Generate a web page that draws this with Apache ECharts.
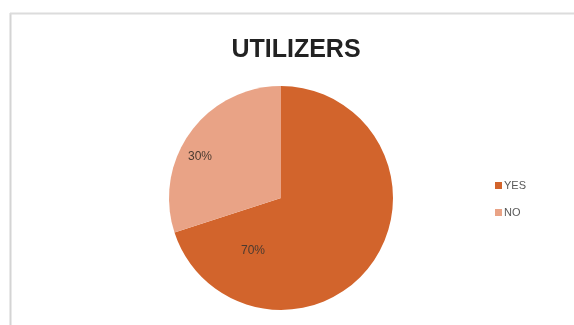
<!DOCTYPE html>
<html>
<head>
<meta charset="utf-8">
<script src="https://cdn.jsdelivr.net/npm/echarts@6/dist/echarts.min.js"></script>
<style>
  html, body { margin: 0; padding: 0; background: #fff; }
  #chart { width: 574px; height: 325px; }
</style>
</head>
<body>
<div id="chart"></div>
<script>
const categories = ['YES', 'NO']
const shares = [70, 30]
const sliceColors = ['#D2642C', '#E9A386']

// label spots roughly where Excel put them
const labelSpots = [[253, 251], [200, 157]]

const chart = echarts.init(document.getElementById('chart'))

const option = {
  backgroundColor: '#fff',
  animation: false,
  title: {
    text: 'UTILIZERS',
    left: 291,
    top: 33,
    textAlign: 'center',
    textStyle: {
      fontFamily: 'Liberation Sans, Arial',
      fontSize: 25,
      fontWeight: 'bold',
      color: '#222'
    }
  },
  legend: {
    orient: 'vertical',
    left: 490,
    top: 175,
    itemWidth: 7,
    itemHeight: 7,
    itemGap: 16,
    icon: 'rect',
    textStyle: {
      fontFamily: 'Liberation Sans, Arial',
      fontSize: 11,
      color: '#595959',
      padding: [0, 0, 0, -3]
    },
    data: categories
  },
  graphic: [
    {
      type: 'line',
      shape: { x1: 10.5, y1: 13, x2: 10.5, y2: 325 },
      style: { stroke: '#d4d4d4', lineWidth: 2 }
    },
    {
      type: 'line',
      shape: { x1: 10, y1: 13.5, x2: 574, y2: 13.5 },
      style: { stroke: '#dcdcdc', lineWidth: 2 }
    }
  ],
  series: [
    {
      type: 'pie',
      center: [281, 198],
      radius: 112,
      startAngle: 90,
      clockwise: true,
      data: categories.map((name, i) => ({
        name,
        value: shares[i],
        itemStyle: { color: sliceColors[i] }
      })),
      label: {
        show: true,
        position: 'inside',
        formatter: '{c}%',
        fontFamily: 'Liberation Sans, Arial',
        fontSize: 12,
        color: '#4a3a30'
      },
      labelLine: { show: false },
      labelLayout: (params) => ({
        x: labelSpots[params.dataIndex][0],
        y: labelSpots[params.dataIndex][1]
      })
    }
  ]
}

chart.setOption(option)
</script>
</body>
</html>
